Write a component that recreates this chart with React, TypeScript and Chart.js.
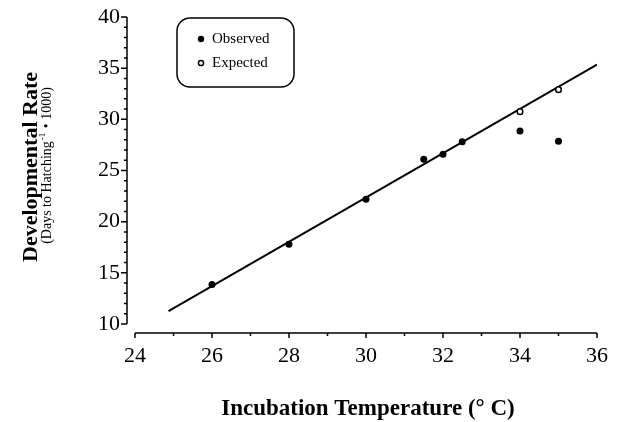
import React, { useEffect, useRef } from 'react';
import { Chart, registerables } from 'chart.js';

Chart.register(...registerables);

// ---- Data ----
const observedTemp = [26, 28, 30, 31.5, 32, 32.5, 34, 35];
const observedRate = [13.85, 17.8, 22.2, 26.1, 26.6, 27.8, 28.85, 27.85];
const expectedTemp = [34, 35];
const expectedRate = [30.75, 32.9];
const fitTemp = [24.87, 36];
const fitRate = [11.25, 35.35];
const xTickValues = [24, 26, 28, 30, 32, 34, 36];
const yTickValues = [10, 15, 20, 25, 30, 35, 40];
const legendLabels = ['Observed', 'Expected'];
const xTitle = 'Incubation Temperature (° C)';
const yTitle = 'Developmental Rate';
const ySubPre = '(Days to Hatching';
const ySubSup = '-1';
const ySubPost = ' • 1000)';

const FONT = '"Liberation Serif", "Times New Roman", serif';

const decorPlugin = {
  id: 'decor',
  afterDraw(chart: any) {
    const ctx = chart.ctx as CanvasRenderingContext2D;
    const xs = chart.scales.x;
    const ys = chart.scales.y;
    ctx.save();
    ctx.strokeStyle = '#000';
    ctx.fillStyle = '#000';
    ctx.lineWidth = 1.5;

    // Y axis (offset left of plot area)
    const axX = chart.chartArea.left - 8;
    const yTop = ys.getPixelForValue(ys.max);
    const yBot = ys.getPixelForValue(ys.min);
    ctx.beginPath();
    ctx.moveTo(axX, yTop);
    ctx.lineTo(axX, yBot);
    for (let v = ys.min; v <= ys.max + 1e-9; v += 1) {
      const p = ys.getPixelForValue(v);
      const major = yTickValues.includes(v);
      ctx.moveTo(axX, p);
      ctx.lineTo(axX - (major ? 6 : 3), p);
    }
    ctx.stroke();

    // X axis (offset below plot area)
    const axY = chart.chartArea.bottom + 9;
    const xl = xs.getPixelForValue(xs.min);
    const xr = xs.getPixelForValue(xs.max);
    ctx.beginPath();
    ctx.moveTo(xl, axY);
    ctx.lineTo(xr, axY);
    for (let v = xs.min; v <= xs.max + 1e-9; v += 1) {
      const p = xs.getPixelForValue(v);
      const major = xTickValues.includes(v);
      ctx.moveTo(p, axY);
      ctx.lineTo(p, axY + (major ? 5 : 3));
    }
    ctx.stroke();

    // X title
    ctx.font = `bold 23px ${FONT}`;
    ctx.textAlign = 'center';
    ctx.textBaseline = 'alphabetic';
    ctx.fillText(xTitle, 368, 415);

    // Y title (rotated)
    ctx.save();
    ctx.translate(37, 167);
    ctx.rotate(-Math.PI / 2);
    ctx.font = `bold 22px ${FONT}`;
    ctx.textAlign = 'center';
    ctx.fillText(yTitle, 0, 0);
    ctx.restore();

    // Y subtitle with superscript
    ctx.save();
    ctx.translate(51, 166);
    ctx.rotate(-Math.PI / 2);
    ctx.textAlign = 'left';
    ctx.font = `14px ${FONT}`;
    const w1 = ctx.measureText(ySubPre).width;
    const w3 = ctx.measureText(ySubPost).width;
    ctx.font = `9px ${FONT}`;
    const w2 = ctx.measureText(ySubSup).width + 1;
    const total = w1 + w2 + w3;
    let cx = -total / 2;
    ctx.font = `14px ${FONT}`;
    ctx.fillText(ySubPre, cx, 0);
    cx += w1 + 1;
    ctx.font = `9px ${FONT}`;
    ctx.fillText(ySubSup, cx, -6);
    cx += w2;
    ctx.font = `14px ${FONT}`;
    ctx.fillText(ySubPost, cx, 0);
    ctx.restore();

    // Legend box
    const bx = 177, by = 18, bw = 117, bh = 69, r = 13;
    ctx.lineWidth = 1.5;
    ctx.beginPath();
    ctx.moveTo(bx + r, by);
    ctx.lineTo(bx + bw - r, by);
    ctx.arcTo(bx + bw, by, bx + bw, by + r, r);
    ctx.lineTo(bx + bw, by + bh - r);
    ctx.arcTo(bx + bw, by + bh, bx + bw - r, by + bh, r);
    ctx.lineTo(bx + r, by + bh);
    ctx.arcTo(bx, by + bh, bx, by + bh - r, r);
    ctx.lineTo(bx, by + r);
    ctx.arcTo(bx, by, bx + r, by, r);
    ctx.closePath();
    ctx.stroke();

    ctx.font = `15px ${FONT}`;
    ctx.textAlign = 'left';
    ctx.textBaseline = 'middle';
    // Observed
    ctx.beginPath();
    ctx.arc(201, 39, 3.2, 0, Math.PI * 2);
    ctx.fill();
    ctx.fillText(legendLabels[0], 212, 39);
    // Expected
    ctx.beginPath();
    ctx.arc(201, 63, 2.6, 0, Math.PI * 2);
    ctx.fillStyle = '#fff';
    ctx.fill();
    ctx.lineWidth = 1.5;
    ctx.stroke();
    ctx.fillStyle = '#000';
    ctx.fillText(legendLabels[1], 212, 63);

    ctx.restore();
  },
};

export default function App() {
  const ref = useRef<HTMLCanvasElement | null>(null);
  useEffect(() => {
    document.body.style.margin = '0';
    const canvas = ref.current;
    if (!canvas) return;
    const chart = new Chart(canvas, {
      type: 'scatter',
      data: {
        datasets: [
          {
            label: legendLabels[0],
            data: observedTemp.map((x, i) => ({ x, y: observedRate[i] })),
            pointRadius: 3.5,
            pointBackgroundColor: '#000',
            pointBorderColor: '#000',
            pointBorderWidth: 0,
          },
          {
            label: legendLabels[1],
            data: expectedTemp.map((x, i) => ({ x, y: expectedRate[i] })),
            pointRadius: 2.8,
            pointBackgroundColor: '#fff',
            pointBorderColor: '#000',
            pointBorderWidth: 1.5,
          },
          {
            label: 'Fit',
            data: fitTemp.map((x, i) => ({ x, y: fitRate[i] })),
            showLine: true,
            borderColor: '#000',
            borderWidth: 2,
            pointRadius: 0,
          },
        ],
      },
      options: {
        responsive: false,
        animation: false,
        layout: { padding: { top: 17, right: 22, left: 0, bottom: 0 } },
        plugins: { legend: { display: false }, tooltip: { enabled: false } },
        scales: {
          x: {
            type: 'linear',
            min: 24,
            max: 36,
            afterBuildTicks: (s: any) => {
              s.ticks = xTickValues.map((v) => ({ value: v }));
            },
            afterFit: (s: any) => {
              s.height = 98;
              s.paddingLeft = 0;
              s.paddingRight = 0;
            },
            grid: { display: false, drawTicks: false },
            border: { display: false },
            ticks: {
              padding: 19,
              color: '#000',
              maxRotation: 0,
              font: { family: FONT, size: 22 },
            },
          },
          y: {
            type: 'linear',
            min: 10,
            max: 40,
            afterBuildTicks: (s: any) => {
              s.ticks = yTickValues.map((v) => ({ value: v }));
            },
            afterFit: (s: any) => {
              s.width = 135;
              s.paddingTop = 0;
              s.paddingBottom = 0;
            },
            grid: { display: false, drawTicks: false },
            border: { display: false },
            ticks: {
              padding: 15,
              color: '#000',
              font: { family: FONT, size: 22 },
            },
          },
        },
      },
      plugins: [decorPlugin],
    });
    return () => chart.destroy();
  }, []);
  return <canvas ref={ref} width={619} height={422} style={{ display: 'block' }} />;
}
